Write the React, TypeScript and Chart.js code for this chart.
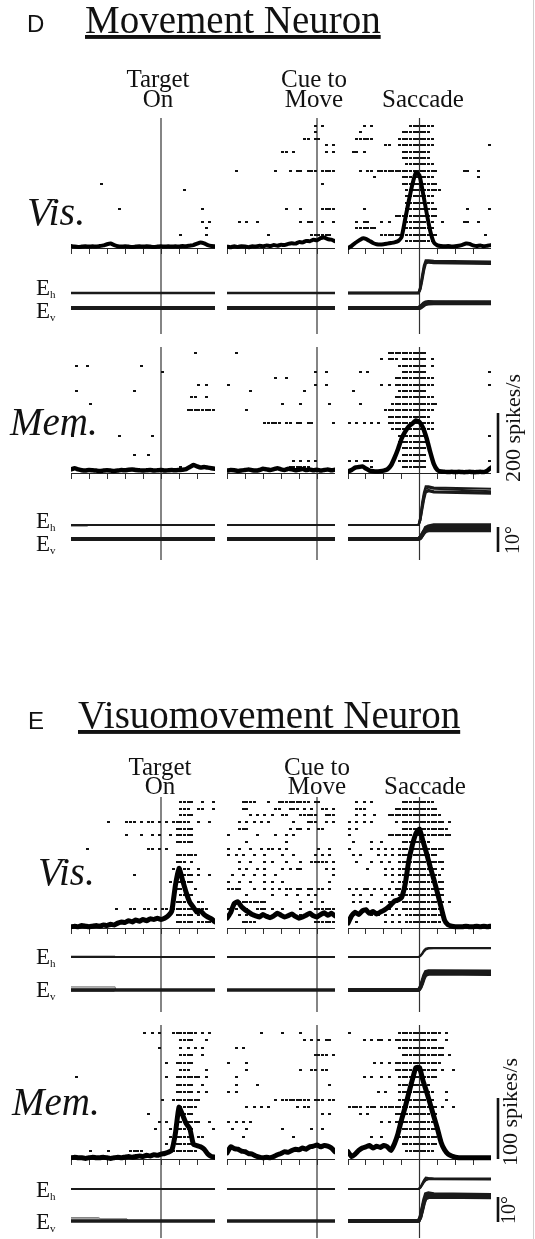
import React, { useEffect, useRef } from "react";
import { Chart, registerables } from "chart.js";

Chart.register(...registerables);

const SERIF = "'Liberation Serif','Times New Roman',Times,serif";
const SANS = "'Liberation Sans',Arial,Helvetica,sans-serif";

// ---------------- data ----------------
const BIN_MS = 20; // raster bin width (ms); each listed bin index = one spike
const RATE_STEP_MS = 20; // sampling step of spike-density curves
const TICK_MS = 100;
const WINDOWS: Record<string, [number, number]> = { T: [-500, 300], C: [-500, 100], S: [-400, 400] };
const PANEL_KEYS = ["T", "C", "S"];

const TITLES = ["Movement Neuron", "Visuomovement Neuron"];
const PANEL_LETTERS = ["D", "E"];
const EVENT_LABELS = [["Target", "On"], ["Cue to", "Move"], ["Saccade"]];
const CONDITIONS = ["Vis.", "Mem."];
const RATE_SCALES = [200, 100]; // spikes/s calibration bars
const DEG_SCALE = 10; // degrees calibration bar

// ---- D: movement neuron, visual trials ----
const dVisTargetRows = [
  [], [], [], [], [], [], [], [], [],
  [8], [31], [], [], [13, 36], [], [36, 38], [37], [30, 37], [],
];
const dVisCueRows = [
  [24, 26], [24], [21, 22, 24, 25], [27, 29], [15, 16, 18, 27, 29], [], [],
  [2, 13, 17, 19, 20, 22, 23, 24, 26, 27, 28, 29], [], [26], [], [], [],
  [16, 20, 26, 27, 28, 29], [], [3, 5, 8, 20, 22, 23, 26, 29], [],
  [11, 23, 24, 25, 26, 27, 28], [],
];
const dVisSacRows = [
  [4, 6, 17, 18, 19, 20, 21, 22, 23],
  [3, 15, 16, 17, 18, 19, 20, 21, 22],
  [2, 3, 4, 5, 6, 14, 15, 16, 17, 18, 19, 20, 21, 22, 23],
  [10, 11, 14, 15, 16, 17, 18, 19, 20, 21, 22, 23, 39],
  [1, 2, 4, 15, 16, 17, 18, 19, 20, 21, 22],
  [15, 16, 17, 18, 19, 20, 21, 22],
  [16, 17, 18, 19, 20, 21, 22, 23],
  [3, 5, 6, 8, 9, 10, 11, 12, 13, 14, 15, 16, 17, 18, 19, 20, 21, 22, 23, 24, 32, 33, 36],
  [7, 15, 16, 17, 18, 19, 20, 21, 22, 23, 36],
  [15, 16, 17, 18, 19, 20, 21, 22, 23, 24],
  [16, 17, 18, 19, 20, 21, 22, 23, 24, 25],
  [16, 17, 18, 19, 20, 21, 22, 23],
  [16, 17, 18, 19, 20, 21, 22, 23],
  [4, 16, 17, 18, 19, 20, 21, 22, 23, 24, 33, 39],
  [13, 14, 15, 16, 17, 18, 19, 20, 21, 22, 23, 24],
  [2, 4, 5, 9, 11, 16, 17, 18, 19, 20, 21, 22, 23, 26, 32, 33, 36],
  [2, 3, 4, 5, 6, 7, 16, 17, 18, 19, 20, 21, 22, 23],
  [9, 10, 11, 12, 13, 14, 16, 17, 18, 19, 20, 21, 22, 23, 24, 38],
  [16, 17, 18, 19, 20, 21, 22, 23],
];
const dVisTargetRate = [10, 8, 7, 8, 9, 8, 9, 8, 10, 12, 16, 18, 13, 9, 8, 9, 8, 7, 8, 9, 8, 9, 8, 7, 8, 9, 8, 9, 8, 9, 8, 10, 9, 11, 13, 18, 22, 19, 13, 10, 9];
const dVisCueRate = [8, 6, 9, 7, 9, 8, 6, 9, 8, 11, 9, 12, 10, 13, 11, 14, 13, 17, 19, 18, 23, 22, 27, 26, 31, 29, 36, 38, 33, 31, 26];
const dVisSacRate = [3, 10, 20, 28, 35, 34, 27, 20, 16, 15, 16, 18, 20, 22, 26, 40, 100, 160, 215, 255, 245, 185, 120, 60, 22, 12, 10, 9, 10, 8, 9, 11, 14, 18, 17, 12, 10, 12, 9, 11, 13];

// ---- D: movement neuron, memory trials ----
const dMemTargetRows = [
  [34], [], [1, 4, 19], [25], [], [35, 37], [1, 17], [33, 34, 37], [5],
  [32, 33, 34, 35, 36, 37, 38, 39], [], [], [], [0, 13, 22], [], [], [17, 21], [], [30],
];
const dMemCueRows = [
  [2], [], [], [24, 27], [13, 16], [0, 24, 27], [6, 21], [], [15, 20, 28], [5], [],
  [10, 11, 12, 13, 14, 16, 17, 19, 20, 22, 23, 29], [], [], [], [], [],
  [18, 20, 22, 24], [17, 18, 19, 20, 21, 22],
];
const dMemSacRows = [
  [11, 12, 13, 14, 15, 16, 17, 18, 19, 20, 21],
  [9, 11, 12, 13, 15, 16, 17, 18, 19, 20, 21, 23],
  [14, 15, 16, 17, 18, 19, 20, 21, 23],
  [3, 5, 15, 16, 17, 18, 19, 20, 21, 39],
  [13, 14, 15, 16, 17, 18, 19, 20, 21, 22, 23],
  [9, 11, 13, 14, 15, 16, 17, 18, 19, 20, 21, 22, 23, 39],
  [1, 14, 15, 16, 17, 18, 19, 20, 21],
  [13, 14, 15, 16, 17, 18, 19, 20, 21, 22, 23],
  [3, 12, 13, 14, 15, 16, 17, 18, 19, 20, 21, 22, 23, 24],
  [10, 11, 12, 13, 14, 15, 16, 17, 18, 19, 20, 21, 22, 23],
  [11, 12, 13, 14, 15, 16, 17, 18, 19, 20, 21, 22],
  [0, 2, 4, 6, 8, 11, 12, 13, 14, 15, 16, 17, 18, 19, 20, 21, 22, 23],
  [12, 13, 14, 15, 16, 17, 18, 19, 20, 21, 22, 23],
  [14, 15, 16, 17, 18, 19, 20, 21, 39],
  [14, 15, 16, 17, 18, 19, 20, 21],
  [15, 16, 17, 18, 19, 20, 21],
  [15, 16, 17, 18, 19, 20, 21],
  [0, 2, 4, 5, 6, 14, 15, 16, 17, 18, 19, 20, 21, 39],
  [2, 3, 4, 6, 15, 16, 17, 18, 19, 20, 21],
];
const dMemTargetRate = [12, 16, 12, 9, 8, 10, 9, 8, 7, 8, 9, 8, 7, 8, 10, 9, 11, 12, 10, 9, 8, 9, 10, 8, 9, 10, 8, 9, 10, 9, 10, 11, 13, 20, 27, 22, 18, 20, 18, 16, 14];
const dMemCueRate = [8, 10, 9, 7, 8, 10, 12, 9, 8, 10, 14, 12, 10, 13, 16, 12, 10, 14, 12, 9, 11, 13, 10, 12, 9, 11, 8, 10, 12, 9, 11];
const dMemSacRate = [5, 10, 18, 20, 22, 15, 8, 6, 5, 6, 8, 12, 25, 50, 80, 115, 138, 155, 165, 175, 170, 150, 115, 70, 30, 10, 5, 4, 3, 4, 3, 4, 3, 3, 4, 3, 3, 4, 3, 8, 18];

// ---- E: visuomovement neuron, visual trials ----
const eVisTargetRows = [
  [30, 31, 32, 33, 36, 39],
  [30, 31, 32, 35, 36, 39],
  [30, 31, 32, 33],
  [10, 15, 16, 17, 19, 21, 22, 24, 26, 28, 29, 30, 31, 32, 35, 38],
  [29, 30, 31, 32, 33],
  [15, 19, 22, 24, 27, 29, 30, 31, 32, 33],
  [29, 30, 31, 32, 33],
  [4, 21, 22, 24, 26],
  [29, 30, 31, 32, 33, 34],
  [29, 30, 31, 33],
  [28, 30, 31, 32, 35],
  [17, 30, 31, 32, 33, 35, 38],
  [27, 29, 30, 31, 32, 33],
  [29, 30, 31, 34],
  [30, 31, 32, 33],
  [29, 30, 31, 32, 35, 36],
  [12, 16, 17, 20, 21, 23, 25, 26, 28, 29, 30, 31, 32, 33, 35, 36, 37],
  [29, 30, 31, 32, 33, 35, 37],
  [29, 30, 31, 32, 33, 35, 36, 37, 38, 39],
];
const eVisCueRows = [
  [4, 5, 6, 7, 11, 14, 15, 16, 17, 18, 19, 20, 21, 22, 24, 25],
  [4, 5, 13, 14, 17, 18, 19, 21, 23, 26, 27, 29],
  [6, 8, 10, 12, 15, 16, 20, 21, 22, 23, 24, 27, 28, 29],
  [3, 5, 7, 9, 11, 18, 22, 23, 24, 27, 29],
  [3, 4, 5, 17, 19, 20, 22, 25, 26],
  [0, 8, 13, 16, 18],
  [5, 16],
  [0, 3, 6, 9, 11, 12, 14, 16, 25, 28],
  [0, 2, 4, 7, 10, 15, 18, 24, 26, 28],
  [3, 6, 10, 12, 16, 20, 23, 24, 25, 26, 27, 29],
  [3, 5, 8, 10, 15, 17, 19, 20, 27, 29],
  [1, 4, 7, 10, 13, 29],
  [0, 3, 6, 10, 12, 15, 28],
  [0, 1, 2, 3, 7, 10, 12, 14, 16, 17, 19, 20, 22, 23, 25, 26, 28],
  [5, 12, 16, 19, 22, 24],
  [3, 4, 5, 6, 7, 8, 9, 10, 20, 23, 26],
  [0, 2, 5, 8, 9, 10, 12, 15, 20, 24, 25, 26, 27, 28, 29],
  [3, 5, 8, 17, 20],
  [4, 5, 6, 7, 24, 25, 26, 27, 28, 29],
];
const eVisSacRows = [
  [2, 4, 6, 15, 16, 17, 18, 19, 20, 21, 22, 23],
  [2, 3, 4, 13, 14, 15, 16, 17, 18, 19, 20, 21, 22, 23, 24],
  [2, 4, 7, 11, 12, 13, 14, 15, 16, 17, 18, 19, 20, 21, 22, 23, 24, 25],
  [0, 2, 4, 6, 13, 15, 16, 17, 18, 19, 20, 21, 22, 23, 24, 25, 26, 28],
  [0, 2, 15, 16, 17, 18, 19, 20, 21, 22, 23, 24, 25, 26, 27],
  [0, 11, 12, 13, 14, 15, 16, 17, 18, 19, 20, 21, 22, 23, 24, 25, 26, 27, 28],
  [1, 6, 9, 15, 16, 17, 18, 19, 20, 21, 22],
  [0, 6, 8, 10, 12, 14, 15, 16, 17, 18, 19, 20, 21, 22, 23, 24, 25, 26],
  [1, 3, 8, 10, 12, 14, 15, 16, 17, 18, 19, 20, 21, 22, 23, 24],
  [2, 6, 9, 11, 14, 15, 16, 17, 18, 19, 20, 21, 22, 23, 24, 25, 26],
  [5, 10, 12, 14, 15, 16, 17, 18, 19, 20, 21, 22, 23, 24, 26],
  [10, 12, 14, 15, 16, 17, 18, 19, 20, 21, 22, 23, 24, 25],
  [12, 14, 15, 16, 17, 18, 19, 20, 21, 22, 23, 24, 25, 26],
  [0, 2, 4, 5, 7, 9, 11, 13, 14, 15, 16, 17, 18, 19, 20, 21, 22, 23, 24, 25, 26],
  [1, 3, 6, 10, 12, 14, 15, 16, 17, 18, 19, 20, 21, 22, 23, 24, 25, 26],
  [1, 3, 5, 9, 11, 13, 15, 16, 17, 18, 19, 20, 21, 22, 23, 24, 25, 26, 28],
  [11, 13, 15, 16, 17, 18, 19, 20, 21, 22, 23, 24, 25, 26],
  [1, 6, 8, 10, 12, 14, 16, 17, 18, 19, 20, 21, 22, 23, 24, 25, 26],
  [2, 10, 12, 14, 16, 17, 18, 19, 20, 21, 22, 23, 24, 25],
];
const eVisTargetRate = [2, 3, 2, 4, 3, 2, 3, 4, 3, 5, 4, 6, 5, 8, 10, 9, 12, 10, 13, 11, 14, 12, 15, 14, 16, 14, 16, 20, 28, 70, 98, 78, 58, 42, 34, 26, 28, 22, 18, 15, 10];
const eVisCueRate = [16, 25, 40, 43, 35, 30, 26, 22, 20, 18, 22, 19, 17, 20, 24, 21, 18, 20, 23, 19, 16, 18, 21, 24, 20, 18, 22, 25, 21, 24, 20];
const eVisSacRate = [8, 20, 26, 22, 28, 30, 24, 27, 23, 26, 29, 33, 38, 44, 46, 50, 72, 110, 136, 155, 162, 142, 122, 100, 80, 58, 35, 13, 5, 3, 2, 2, 2, 3, 2, 2, 3, 2, 3, 2, 3];

// ---- E: visuomovement neuron, memory trials ----
const eMemTargetRows = [
  [20, 22, 24, 28, 29, 30, 31, 32, 33, 34, 36, 38],
  [30, 31, 32, 33, 37],
  [24, 30, 32, 34, 36],
  [30, 31, 32, 33, 36],
  [26, 29, 30, 31, 32, 33],
  [30, 31, 32, 37],
  [1, 26, 29, 30, 31, 32, 33, 34, 35, 37],
  [29, 30, 31, 32, 33, 36],
  [29, 30, 31, 32, 33, 35, 37],
  [25, 28, 29, 30, 31, 32, 33, 34, 35],
  [30, 31, 32, 33, 34],
  [21, 29, 30, 31, 32, 33],
  [24, 26, 29, 30, 31, 32, 33, 34, 35, 38],
  [23, 27, 29, 30, 31, 32, 33, 39],
  [27, 29, 30, 31, 32, 33, 35, 36],
  [26, 29, 30, 31, 32, 33],
  [5, 10, 16, 17, 18, 19, 28, 29, 30, 31, 32, 33, 34],
];
const eMemCueRows = [
  [9, 15, 20],
  [21, 23, 25, 27, 28],
  [2, 4],
  [24, 25, 26, 27, 29],
  [0, 5],
  [5, 20, 23, 24, 26, 27],
  [2],
  [2, 8, 28],
  [0, 2],
  [13, 15, 16, 17, 18, 19, 20, 21, 22, 24, 25, 26, 28, 29],
  [5, 7, 9, 11, 19, 21, 22],
  [26, 28],
  [0, 2, 4, 6],
  [1, 5, 15, 23, 26],
  [4, 18],
  [],
  [],
];
const eMemSacRows = [
  [0, 14, 15, 16, 17, 18, 19, 20, 21, 22, 23, 24, 25, 27],
  [4, 6, 8, 9, 11, 13, 14, 15, 16, 17, 18, 19, 20, 21, 22, 23, 24, 27],
  [14, 15, 16, 17, 18, 19, 20, 21, 22, 23, 24, 25, 26],
  [15, 16, 17, 18, 19, 20, 21, 22, 23, 24, 25, 26, 28],
  [7, 9, 11, 13, 14, 15, 16, 17, 18, 19, 20, 21, 22, 23, 24, 25],
  [13, 14, 15, 16, 17, 18, 19, 20, 21, 22, 23, 24, 26, 29],
  [4, 6, 9, 11, 14, 15, 16, 17, 18, 19, 20, 21, 22, 23, 24],
  [14, 15, 16, 17, 18, 19, 20, 21, 22],
  [8, 10, 14, 15, 16, 17, 18, 19, 20, 21, 22, 23, 27],
  [14, 15, 16, 17, 18, 19, 20, 21, 22, 23, 27],
  [0, 1, 2, 3, 5, 6, 7, 9, 10, 11, 12, 13, 14, 15, 16, 17, 18, 19, 20, 21, 22, 23, 24, 26, 29],
  [3, 5, 13, 14, 15, 16, 17, 18, 19, 20, 21, 22, 23, 24],
  [9, 11, 13, 14, 15, 16, 17, 18, 19, 20, 21, 22, 23],
  [14, 15, 16, 17, 18, 19, 20, 21, 22, 23, 24],
  [6, 9, 14, 15, 16, 17, 18, 19, 20, 21, 22, 23, 24],
  [15, 16, 17, 18, 19, 20, 21, 22, 23, 24],
  [16, 17, 18, 19, 20, 21, 22, 23],
];
const eMemTargetRate = [2, 3, 2, 2, 1, 2, 3, 2, 2, 3, 2, 1, 2, 3, 2, 3, 4, 3, 4, 5, 4, 6, 5, 7, 6, 8, 9, 11, 14, 42, 85, 72, 58, 50, 24, 22, 20, 16, 8, 4, 3];
const eMemCueRate = [10, 20, 17, 16, 13, 12, 9, 8, 5, 3, 2, 3, 2, 4, 7, 9, 12, 11, 14, 16, 15, 18, 16, 20, 21, 23, 20, 22, 21, 18, 12];
const eMemSacRate = [12, 4, 8, 14, 18, 20, 22, 18, 21, 19, 22, 20, 14, 25, 42, 65, 85, 108, 130, 150, 150, 128, 110, 90, 70, 50, 28, 15, 8, 5, 3, 2, 2, 2, 2, 2, 2, 2, 2, 2, 2];

// ---- eye position (deg) ----
const SAC_EYE_TIMES = [-400, -5, 5, 15, 25, 35, 50, 80, 400];
const dVisSacEh = [[0, 0, 2, 6, 10, 12.4, 12.6, 12.3, 12.0], [0, 0, 1.5, 5, 9, 11.8, 12.2, 12.0, 11.7], [0, 0, 2.5, 7, 11, 13, 13, 12.8, 12.5]];
const dVisSacEv = [[0, 0, 0.3, 0.9, 1.5, 1.9, 2.1, 2.1, 2.0], [0, 0, 0.2, 0.7, 1.2, 1.6, 1.8, 1.9, 1.9], [0, 0, 0.4, 1.1, 1.8, 2.2, 2.4, 2.3, 2.3]];
const dMemSacEh = [[0, 0, 3, 8, 12, 14.5, 15, 14.5, 13.5], [0, 0, 2, 6, 10, 13, 13.5, 13, 12.5], [0, 0, 3, 9, 13, 15.5, 15.5, 15, 14.5], [0, 0, 2, 7, 11, 13.5, 14, 13.5, 13]];
const dMemSacEv = [[0, 0, 0.5, 1.5, 2.5, 3.2, 3.5, 3.6, 3.5], [0, 0, 0.6, 1.8, 3, 3.8, 4, 4.2, 4.2], [0, 0, 0.5, 1.6, 3, 4.5, 5, 5.5, 5.5]];
const eVisSacEh = [[0, 0, 0.5, 1.5, 2.6, 3.3, 3.6, 3.6, 3.6], [0, 0, 0.4, 1.2, 2.2, 3, 3.4, 3.5, 3.5]];
const eVisSacEv = [[0, 0, 1, 3, 5, 6.5, 7, 7, 7], [0, 0, 1.2, 3.5, 5.8, 7.3, 7.6, 7.6, 7.5], [0, 0, 0.8, 2.5, 4.6, 6, 6.4, 6.5, 6.3]];
const eMemSacEh = [[0, 0, 0.6, 1.8, 3, 3.8, 4.2, 4.1, 4.0], [0, 0, 0.5, 1.5, 2.7, 3.5, 3.9, 3.9, 3.8], [0, 0, 0.7, 2.2, 3.6, 4.6, 4.4, 4.2, 4.2]];
const eMemSacEv = [[0, 0, 1.5, 4.5, 7.5, 9.5, 10.2, 10, 9.8], [0, 0, 1.3, 4, 7, 9, 9.5, 9.6, 9.4], [0, 0, 1.7, 5, 8.5, 10.8, 11.2, 10.8, 10.5]];
// faint individual fixation traces at trial start ([ms, deg] pairs)
const dMemTargetEhExtra = [[[-500, -0.5], [-410, -0.5], [-400, 0]]];
const eVisTargetEhExtra = [[[-500, 0.4], [-255, 0.4], [-250, 0]]];
const eVisTargetEvExtra = [
  [[-500, 1.3], [-255, 1.3], [-250, 0]],
  [[-500, 0.8], [-255, 0.8], [-250, 0]],
  [[-500, -0.6], [-260, -0.6], [-255, 0]],
];
const eMemTargetEvExtra = [
  [[-500, 1.4], [-345, 1.4], [-335, 0.7], [-190, 0.7], [-180, 0]],
  [[-500, 0.9], [-190, 0.9], [-180, 0]],
];

// ---------------- layout (pixels) ----------------
const PANEL_BOX: Record<string, { x: number; w: number }> = {
  T: { x: 71, w: 144 },
  C: { x: 227, w: 108 },
  S: { x: 348, w: 143 },
};
const DEG_PX = 2.5;

type Trial = number[][];
const zip = (times: number[], vals: number[]): Trial => times.map((t, i) => [t, vals[i]]);
const fix = (k: string): Trial => [[WINDOWS[k][0], 0], [WINDOWS[k][1], 0]];
const sac = (trials: number[][]) => trials.map((v) => zip(SAC_EYE_TIMES, v));

const BLOCKS = [
  {
    key: "dVis", top: 118, bottom: 334, row0: 126, rowSp: 6.4, base: 249, rateK: 0.3, eh: 293, ev: 308,
    curveW: 4, ehW: 2.4, evW: 4.2,
    panels: {
      T: { rows: dVisTargetRows, rate: dVisTargetRate, eh: [fix("T")], ev: [fix("T")] },
      C: { rows: dVisCueRows, rate: dVisCueRate, eh: [fix("C")], ev: [fix("C")] },
      S: { rows: dVisSacRows, rate: dVisSacRate, eh: sac(dVisSacEh), ev: sac(dVisSacEv) },
    },
  },
  {
    key: "dMem", top: 347, bottom: 560, row0: 353, rowSp: 6.35, base: 473, rateK: 0.3, eh: 525, ev: 539,
    curveW: 4.5, ehW: 2.2, evW: 4,
    scaleRate: RATE_SCALES[0], degBarFrom: -5.2,
    panels: {
      T: { rows: dMemTargetRows, rate: dMemTargetRate, eh: [fix("T")], ev: [fix("T")], ehExtra: dMemTargetEhExtra },
      C: { rows: dMemCueRows, rate: dMemCueRate, eh: [fix("C")], ev: [fix("C")] },
      S: { rows: dMemSacRows, rate: dMemSacRate, eh: sac(dMemSacEh), ev: sac(dMemSacEv) },
    },
  },
  {
    key: "eVis", top: 797, bottom: 1012, row0: 802, rowSp: 6.67, base: 928, rateK: 0.61, eh: 957, ev: 990,
    curveW: 5, ehW: 2, evW: 3.6,
    panels: {
      T: { rows: eVisTargetRows, rate: eVisTargetRate, eh: [fix("T")], ev: [fix("T")], ehExtra: eVisTargetEhExtra, evExtra: eVisTargetEvExtra },
      C: { rows: eVisCueRows, rate: eVisCueRate, eh: [fix("C")], ev: [fix("C")] },
      S: { rows: eVisSacRows, rate: eVisSacRate, eh: sac(eVisSacEh), ev: sac(eVisSacEv) },
    },
  },
  {
    key: "eMem", top: 1025, bottom: 1238, row0: 1033, rowSp: 7.4, base: 1159, rateK: 0.61, eh: 1189, ev: 1221,
    curveW: 5, ehW: 2, evW: 3.6,
    scaleRate: RATE_SCALES[1], degBarFrom: -0.4,
    panels: {
      T: { rows: eMemTargetRows, rate: eMemTargetRate, eh: [fix("T")], ev: [fix("T")], evExtra: eMemTargetEvExtra },
      C: { rows: eMemCueRows, rate: eMemCueRate, eh: [fix("C")], ev: [fix("C")] },
      S: { rows: eMemSacRows, rate: eMemSacRate, eh: sac(eMemSacEh), ev: sac(eMemSacEv) },
    },
  },
];

// value 0 at pixel p0 (from canvas top), k px per unit (upwards)
function axisRange(p0: number, k: number, H: number) {
  return { min: -(H - p0) / k, max: p0 / k };
}

function hiddenY(p0: number, k: number, H: number) {
  return { type: "linear", display: false, bounds: "data", ...axisRange(p0, k, H) };
}

const baseOptions = {
  responsive: false,
  animation: false,
  devicePixelRatio: 1,
  events: [],
  layout: { padding: 0, autoPadding: false },
  plugins: { legend: { display: false }, tooltip: { enabled: false } },
};

function makeMarker() {
  const c = document.createElement("canvas");
  c.width = 3;
  c.height = 2;
  const g = c.getContext("2d")!;
  g.fillStyle = "#111";
  g.fillRect(0, 0, 3, 2);
  return c;
}

function PanelChart({ block, pk }: { block: any; pk: string }) {
  const ref = useRef<HTMLCanvasElement>(null);
  const box = PANEL_BOX[pk];
  const H = block.bottom - block.top;
  useEffect(() => {
    const [t0, t1] = WINDOWS[pk];
    const d = block.panels[pk];
    const spikes = d.rows.flatMap((bins: number[], i: number) =>
      bins.map((b) => ({ x: t0 + b * BIN_MS + BIN_MS / 2, y: -i }))
    );
    const rate = d.rate.map((r: number, i: number) => ({ x: t0 + i * RATE_STEP_MS, y: r }));
    const eye = (trials: Trial[] | undefined, axis: string, w: number, color: string) =>
      (trials || []).map((tr) => ({
        type: "line",
        data: tr.map(([x, y]) => ({ x, y })),
        yAxisID: axis,
        borderColor: color,
        borderWidth: w,
        pointRadius: 0,
        tension: 0,
        fill: false,
      }));
    const chart = new Chart(ref.current!, {
      type: "scatter",
      data: {
        datasets: [
          {
            type: "line",
            data: rate,
            yAxisID: "yRate",
            borderColor: "#000",
            borderWidth: block.curveW,
            pointRadius: 0,
            tension: 0.15,
            borderJoinStyle: "round",
            borderCapStyle: "round",
          },
          {
            type: "scatter",
            data: spikes,
            yAxisID: "yTrial",
            pointStyle: makeMarker(),
            pointRadius: 1,
            pointHoverRadius: 0,
            pointBorderWidth: 0,
          },
          ...eye(d.eh, "yEh", block.ehW, "#1a1a1a"),
          ...eye(d.ev, "yEv", block.evW, "#1a1a1a"),
          ...eye(d.ehExtra, "yEh", 0.9, "#777"),
          ...eye(d.evExtra, "yEv", 0.9, "#777"),
          {
            type: "line",
            data: [{ x: 0, y: 0 }, { x: 0, y: 1 }],
            yAxisID: "yFrame",
            borderColor: "#333",
            borderWidth: 1.2,
            pointRadius: 0,
          },
        ],
      } as any,
      options: {
        ...baseOptions,
        scales: {
          x: {
            type: "linear",
            min: t0,
            max: t1,
            bounds: "data",
            position: { yRate: 0 },
            ticks: { display: false, stepSize: TICK_MS },
            grid: { display: true, drawOnChartArea: false, drawTicks: true, tickLength: 5, color: "#333", lineWidth: 1 },
            border: { display: true, color: "#222", width: 1 },
          },
          yTrial: hiddenY(block.row0 - block.top, block.rowSp, H),
          yRate: hiddenY(block.base - block.top, block.rateK, H),
          yEh: hiddenY(block.eh - block.top, DEG_PX, H),
          yEv: hiddenY(block.ev - block.top, DEG_PX, H),
          yFrame: { type: "linear", display: false, bounds: "data", min: 0, max: 1 },
        },
      } as any,
    });
    return () => chart.destroy();
  }, []);
  return (
    <canvas
      ref={ref}
      width={box.w}
      height={H}
      style={{ position: "absolute", left: box.x, top: block.top, width: box.w, height: H }}
    />
  );
}

function ScaleBarChart({ block }: { block: any }) {
  const ref = useRef<HTMLCanvasElement>(null);
  const H = block.bottom - block.top;
  useEffect(() => {
    const chart = new Chart(ref.current!, {
      type: "scatter",
      data: {
        datasets: [
          {
            type: "line",
            data: [{ x: 0, y: 0 }, { x: 0, y: block.scaleRate }],
            yAxisID: "yRate",
            borderColor: "#111",
            borderWidth: 2.6,
            pointRadius: 0,
          },
          {
            type: "line",
            data: [{ x: 0, y: block.degBarFrom }, { x: 0, y: block.degBarFrom + DEG_SCALE }],
            yAxisID: "yEv",
            borderColor: "#111",
            borderWidth: 2.6,
            pointRadius: 0,
          },
        ],
      } as any,
      options: {
        ...baseOptions,
        scales: {
          x: { type: "linear", display: false, min: -1, max: 1 },
          yRate: hiddenY(block.base - block.top, block.rateK, H),
          yEv: hiddenY(block.ev - block.top, DEG_PX, H),
        },
      } as any,
    });
    return () => chart.destroy();
  }, []);
  return (
    <canvas
      ref={ref}
      width={12}
      height={H}
      style={{ position: "absolute", left: 492, top: block.top, width: 12, height: H }}
    />
  );
}

function EyeLabel({ y, sub }: { y: number; sub: string }) {
  return (
    <text x={36} y={y} fontFamily={SERIF} fontSize={23} fill="#111">
      E<tspan fontSize={11} dy={3}>{sub}</tspan>
    </text>
  );
}

function Header({ xs, y1, y2 }: { xs: number[]; y1: number; y2: number }) {
  return (
    <g fontFamily={SERIF} fontSize={25} fill="#111" textAnchor="middle">
      {EVENT_LABELS.map((lines, j) =>
        lines.map((s, l) => (
          <text key={j + "-" + l} x={xs[j]} y={lines.length === 1 ? y2 : l === 0 ? y1 : y2}>
            {s}
          </text>
        ))
      )}
    </g>
  );
}

function Labels() {
  return (
    <svg width={535} height={1239} style={{ position: "absolute", left: 0, top: 0, pointerEvents: "none" }}>
      {/* panel D */}
      <text x={27} y={32} fontFamily={SANS} fontSize={24} fill="#111">{PANEL_LETTERS[0]}</text>
      <text x={85} y={33} fontFamily={SERIF} fontSize={39} fill="#111" textDecoration="underline">{TITLES[0]}</text>
      <Header xs={[158, 314, 423]} y1={87} y2={107} />
      <text x={27} y={225} fontFamily={SERIF} fontStyle="italic" fontSize={40} fill="#111">{CONDITIONS[0]}</text>
      <EyeLabel y={295} sub="h" />
      <EyeLabel y={318} sub="v" />
      <text x={10} y={435} fontFamily={SERIF} fontStyle="italic" fontSize={39} fill="#111">{CONDITIONS[1]}</text>
      <EyeLabel y={528} sub="h" />
      <EyeLabel y={551} sub="v" />
      <text x={512} y={428} transform="rotate(-90 512 428)" textAnchor="middle" dominantBaseline="central" fontFamily={SERIF} fontSize={22} fill="#111">
        {RATE_SCALES[0]} spikes/s
      </text>
      <text x={512} y={540} transform="rotate(-90 512 540)" textAnchor="middle" dominantBaseline="central" fontFamily={SERIF} fontSize={20} fill="#111">
        {DEG_SCALE}°
      </text>

      {/* panel E */}
      <text x={28} y={729} fontFamily={SANS} fontSize={24} fill="#111">{PANEL_LETTERS[1]}</text>
      <text x={78} y={728} fontFamily={SERIF} fontSize={39} fill="#111" textDecoration="underline">{TITLES[1]}</text>
      <Header xs={[160, 317, 425]} y1={775} y2={794} />
      <text x={38} y={885} fontFamily={SERIF} fontStyle="italic" fontSize={39} fill="#111">{CONDITIONS[0]}</text>
      <EyeLabel y={964} sub="h" />
      <EyeLabel y={997} sub="v" />
      <text x={12} y={1115} fontFamily={SERIF} fontStyle="italic" fontSize={39} fill="#111">{CONDITIONS[1]}</text>
      <EyeLabel y={1197} sub="h" />
      <EyeLabel y={1229} sub="v" />
      <text x={509} y={1112} transform="rotate(-90 509 1112)" textAnchor="middle" dominantBaseline="central" fontFamily={SERIF} fontSize={22} fill="#111">
        {RATE_SCALES[1]} spikes/s
      </text>
      <text x={508} y={1210} transform="rotate(-90 508 1210)" textAnchor="middle" dominantBaseline="central" fontFamily={SERIF} fontSize={20} fill="#111">
        {DEG_SCALE}°
      </text>
    </svg>
  );
}

export default function App() {
  return (
    <div style={{ position: "absolute", left: 0, top: 0, width: 535, height: 1239, background: "#fff", overflow: "hidden" }}>
      {BLOCKS.map((b) => PANEL_KEYS.map((k) => <PanelChart key={b.key + k} block={b} pk={k} />))}
      {BLOCKS.filter((b: any) => b.scaleRate).map((b) => (
        <ScaleBarChart key={b.key + "bar"} block={b} />
      ))}
      <div style={{ position: "absolute", left: 533, top: 0, width: 1, height: 1239, background: "#d0d0d0" }} />
      <Labels />
    </div>
  );
}
